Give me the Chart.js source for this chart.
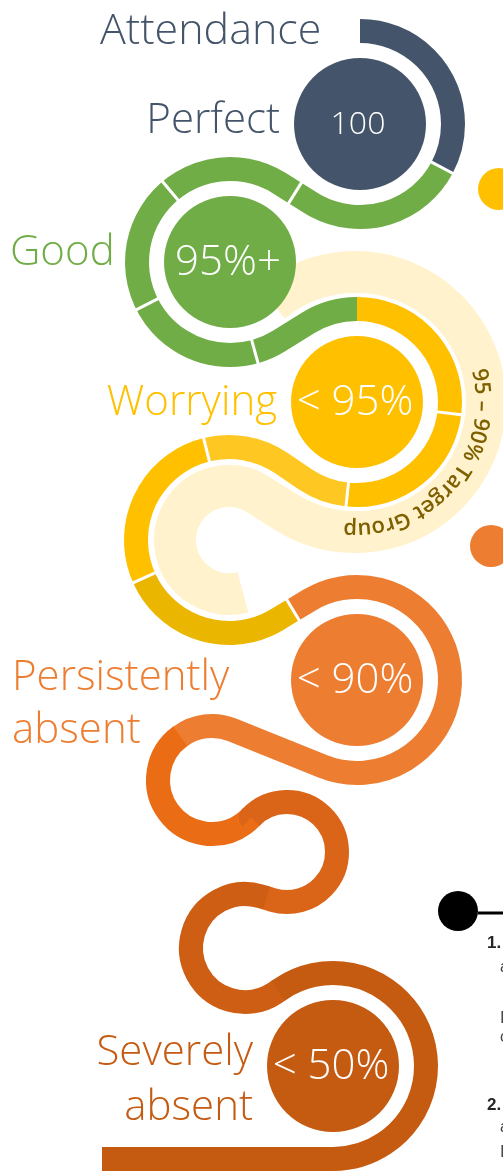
<!DOCTYPE html>
<html>
<head>
<meta charset="utf-8">
<script src="https://cdn.jsdelivr.net/npm/chart.js@4.4.1/dist/chart.umd.min.js"></script>
<style>
  html, body { margin: 0; padding: 0; background: #fff; }
  canvas { display: block; }
</style>
</head>
<body>
<canvas id="c" width="503" height="1171"></canvas>
<script>
/* ---- content ---- */
const title = "Attendance";
const bands = ["Perfect", "Good", "Worrying", "Persistently absent", "Severely absent"];
const thresholds = ["100", "95%+", "< 95%", "< 90%", "< 50%"];
const targetLabel = "95 – 90% Target Group";
const noteNumbers = ["1.", "2."];

/* ---- layout + style (pixels of the 503x1171 page) ---- */
const BAND_COL = ["#44546A", "#70AD47", "#FFC000", "#ED7D31", "#C55A11"];
const FONT = "'Open Sans', Lato, sans-serif";
const BADGE = [[360, 124], [230, 262], [357, 402], [357, 680], [333, 1066]];
const BADGE_R = 66;
const BADGE_FONT = [32, 42, 42, 42, 42];
const LABEL_FONT = 42;
const LABEL_POS = [
  { x: 280, y: [133], align: "right" },
  { x: 10, y: [265], align: "left" },
  { x: 277, y: [415], align: "right" },
  { x: 12, y: [690, 743], align: "left" },
  { x: 253, y: [1065, 1120], align: "right" },
];
const TRACK_W = 24;
// winding road: loop centres, mid radius, turning direction
const LOOPS = [
  { x: 360, y: 124, r: 93, cw: true },
  { x: 230, y: 262, r: 93, cw: false },
  { x: 357, y: 402, r: 93, cw: true },
  { x: 229, y: 540, r: 93, cw: false },
  { x: 357, y: 680, r: 93, cw: true },
  { x: 212, y: 780, r: 54, cw: false },
  { x: 287, y: 852, r: 50, cw: true },
  { x: 245, y: 948, r: 54, cw: false },
  { x: 333, y: 1066, r: 93, cw: true },
];
// colour changes along the road (sep = white cut line)
const BREAKS = [
  { loop: 0, deg: 28, color: "#70AD47", sep: true },
  { after: 0, sep: true },
  { loop: 1, deg: -130, sep: true },
  { loop: 1, deg: 153, sep: true },
  { loop: 1, deg: 74.5, sep: true },
  { loop: 2, deg: -90, color: "#FFC000" },
  { loop: 2, deg: 7, sep: true },
  { loop: 2, deg: 96, color: "#FFC722", sep: true },
  { loop: 3, deg: -104, color: "#FFC000", sep: true },
  { loop: 3, deg: 156, color: "#EBB600", sep: true },
  { after: 3, color: "#ED7D31", sep: true },
  { loop: 5, deg: -126, color: "#EA6C15" },
  { after: 5, color: "#DA6417" },
  { after: 6, color: "#CE5E14" },
  { after: 7, color: "#C55A11" },
];
const TARGET_LOOPS = [
  { x: 355, y: 402, r: 130, cw: true },
  { x: 229, y: 540, r: 54, cw: false },
];
const CREAM = "#FFF2CC";
const MARKERS = [
  { x: 499, y: 189, r: 21, c: "#FFC000" },
  { x: 491, y: 546, r: 21, c: "#ED7D31" },
  { x: 458, y: 911, r: 20, c: "#000000" },
];

/* ---- geometry helpers ---- */
const DEG = Math.PI / 180, TAU = Math.PI * 2;
const mod = (v) => ((v % TAU) + TAU) % TAU;

function buildTrack(loops, startDeg, endDeg, tail) {
  const n = loops.length, ent = [startDeg * DEG], ext = [];
  for (let i = 0; i < n - 1; i++) {
    const A = loops[i], B = loops[i + 1];
    const dx = B.x - A.x, dy = B.y - A.y;
    const phi = Math.atan2(dy, dx);
    const al = Math.acos(Math.min(1, (A.r + B.r) / Math.hypot(dx, dy)));
    ext[i] = A.cw ? phi - al : phi + al;
    ent[i + 1] = ext[i] + Math.PI;
  }
  ext[n - 1] = endDeg * DEG;
  const pieces = [];
  let len = 0;
  loops.forEach((L, i) => {
    const span = L.cw ? mod(ext[i] - ent[i]) : mod(ent[i] - ext[i]);
    const arc = { kind: "arc", loop: i, cx: L.x, cy: L.y, r: L.r, a0: ent[i], dir: L.cw ? 1 : -1, start: len, len: span * L.r };
    pieces.push(arc); len += arc.len;
    const ae = arc.a0 + arc.dir * span;
    const p = [L.x + L.r * Math.cos(ae), L.y + L.r * Math.sin(ae)];
    let q = null;
    if (i < n - 1) { const B = loops[i + 1]; q = [B.x + B.r * Math.cos(ent[i + 1]), B.y + B.r * Math.sin(ent[i + 1])]; }
    else if (tail) q = tail;
    if (!q) return;
    const ln = { kind: "line", after: i, x0: p[0], y0: p[1], x1: q[0], y1: q[1], start: len, len: Math.hypot(q[0] - p[0], q[1] - p[1]) };
    pieces.push(ln); len += ln.len;
  });
  return { pieces, len };
}

function locate(track, b) {
  if (b.loop !== undefined) {
    const a = track.pieces.find((p) => p.kind === "arc" && p.loop === b.loop);
    const s = a.dir > 0 ? mod(b.deg * DEG - a.a0) : mod(a.a0 - b.deg * DEG);
    return a.start + s * a.r;
  }
  const l = track.pieces.find((p) => p.kind === "line" && p.after === b.after);
  return l.start + l.len / 2;
}

function pointAt(track, L) {
  for (const p of track.pieces) {
    if (L < p.start - 1e-6 || L > p.start + p.len + 1e-6) continue;
    if (p.kind === "arc") {
      const a = p.a0 + p.dir * (L - p.start) / p.r;
      return { x: p.cx + p.r * Math.cos(a), y: p.cy + p.r * Math.sin(a), nx: Math.cos(a), ny: Math.sin(a) };
    }
    if (p.len < 1e-6) continue;
    const f = (L - p.start) / p.len, dx = p.x1 - p.x0, dy = p.y1 - p.y0;
    return { x: p.x0 + f * dx, y: p.y0 + f * dy, nx: -dy / p.len, ny: dx / p.len };
  }
  return null;
}

function strokeRange(ctx, track, L0, L1, X, Y, k) {
  ctx.beginPath();
  for (const p of track.pieces) {
    const a = Math.max(L0, p.start), b = Math.min(L1, p.start + p.len);
    if (b <= a) continue;
    if (p.kind === "arc") {
      ctx.arc(X(p.cx), Y(p.cy), p.r * k, p.a0 + p.dir * (a - p.start) / p.r, p.a0 + p.dir * (b - p.start) / p.r, p.dir < 0);
    } else {
      const f0 = (a - p.start) / p.len, f1 = (b - p.start) / p.len;
      const dx = p.x1 - p.x0, dy = p.y1 - p.y0;
      ctx.lineTo(X(p.x0 + f0 * dx), Y(p.y0 + f0 * dy));
      ctx.lineTo(X(p.x0 + f1 * dx), Y(p.y0 + f1 * dy));
    }
  }
  ctx.stroke();
}

const road = buildTrack(LOOPS, -90, 90, [102, 1066 + 93]);
const target = buildTrack(TARGET_LOOPS, -130, 75, null);

/* ---- drawing plugin ---- */
const infographic = {
  id: "infographic",
  beforeDatasetsDraw(chart) {
    const { ctx, scales: { x, y } } = chart;
    const X = (v) => x.getPixelForValue(v), Y = (v) => y.getPixelForValue(v);
    const k = X(1) - X(0);
    ctx.save();
    ctx.lineCap = "butt"; ctx.lineJoin = "round";

    // 95-90% target band
    ctx.strokeStyle = CREAM; ctx.lineWidth = 42 * k;
    strokeRange(ctx, target, 0, target.len, X, Y, k);

    // curved label on the band
    const T = TARGET_LOOPS[0], rb = 121 * k;
    ctx.font = "600 22px " + FONT;
    ctx.fillStyle = "#7F6000"; ctx.textAlign = "center"; ctx.textBaseline = "alphabetic";
    let ang = -15 * DEG;
    for (const ch of targetLabel) {
      const w = ctx.measureText(ch).width + 0.4, step = w / (rb + 7);
      const a = ang + step / 2;
      ctx.save();
      ctx.translate(X(T.x) + rb * Math.cos(a), Y(T.y) + rb * Math.sin(a));
      ctx.rotate(a + Math.PI / 2);
      ctx.fillText(ch, 0, 0);
      ctx.restore();
      ang += step;
    }

    // white halo, then coloured road
    ctx.strokeStyle = "#fff"; ctx.lineWidth = (TRACK_W + 8) * k;
    strokeRange(ctx, road, 0, road.len, X, Y, k);

    const stops = BREAKS.map((b) => ({ L: locate(road, b), color: b.color, sep: b.sep })).sort((a, b) => a.L - b.L);
    let col = BAND_COL[0], from = 0;
    ctx.lineWidth = TRACK_W * k;
    const runs = [];
    stops.forEach((s) => { if (s.color) { runs.push([from, s.L, col]); col = s.color; from = s.L; } });
    runs.push([from, road.len, col]);
    runs.forEach(([a, b, c], i) => {
      ctx.strokeStyle = c;
      strokeRange(ctx, road, a, i < runs.length - 1 ? b + 0.8 : b, X, Y, k);
    });

    ctx.strokeStyle = "#fff"; ctx.lineWidth = 3 * k;
    stops.filter((s) => s.sep).forEach((s) => {
      const p = pointAt(road, s.L), h = TRACK_W / 2 + 2;
      ctx.beginPath();
      ctx.moveTo(X(p.x - p.nx * h), Y(p.y - p.ny * h));
      ctx.lineTo(X(p.x + p.nx * h), Y(p.y + p.ny * h));
      ctx.stroke();
    });
    ctx.restore();
  },
  afterDatasetsDraw(chart) {
    const { ctx, scales: { x, y } } = chart;
    const X = (v) => x.getPixelForValue(v), Y = (v) => y.getPixelForValue(v);
    ctx.save();
    ctx.textBaseline = "alphabetic";

    ctx.font = "300 " + (LABEL_FONT + 1) + "px " + FONT;
    ctx.fillStyle = BAND_COL[0]; ctx.textAlign = "left";
    ctx.fillText(title, X(100), Y(44));

    ctx.font = "300 " + LABEL_FONT + "px " + FONT;
    bands.forEach((b, i) => {
      const pos = LABEL_POS[i];
      const lines = pos.y.length > 1 ? b.split(" ") : [b];
      ctx.fillStyle = BAND_COL[i]; ctx.textAlign = pos.align;
      lines.forEach((t, j) => ctx.fillText(t, X(pos.x), Y(pos.y[j])));
    });

    ctx.fillStyle = "#fff"; ctx.textAlign = "center"; ctx.textBaseline = "middle";
    thresholds.forEach((t, i) => {
      ctx.font = "300 " + BADGE_FONT[i] + "px " + FONT;
      ctx.fillText(t, X(BADGE[i][0] - 2), Y(BADGE[i][1] + 1));
    });

    // clipped notes column on the right edge
    ctx.strokeStyle = "#000"; ctx.lineWidth = 3;
    ctx.beginPath(); ctx.moveTo(X(478), Y(913)); ctx.lineTo(X(503), Y(913)); ctx.stroke();
    ctx.textBaseline = "alphabetic"; ctx.textAlign = "left";
    ctx.fillStyle = "#262626"; ctx.font = "bold 17px 'Liberation Sans', sans-serif";
    ctx.fillText(noteNumbers[0], X(487), Y(948));
    ctx.fillText(noteNumbers[1], X(487), Y(1110));
    ctx.fillStyle = "#444"; ctx.font = "16px 'Liberation Sans', sans-serif";
    [["at", 972], ["If", 1023], ["co", 1042], ["at", 1132], ["If", 1157]].forEach(([t, yy]) => ctx.fillText(t, X(500), Y(yy)));
    ctx.restore();
  },
};

new Chart(document.getElementById("c"), {
  type: "bubble",
  data: {
    datasets: [
      {
        label: "bands",
        data: BADGE.map((p) => ({ x: p[0], y: p[1], r: BADGE_R })),
        backgroundColor: BAND_COL, borderWidth: 0, hoverRadius: 0,
      },
      {
        label: "markers",
        data: MARKERS.map((m) => ({ x: m.x, y: m.y, r: m.r })),
        backgroundColor: MARKERS.map((m) => m.c), borderWidth: 0, hoverRadius: 0,
      },
    ],
  },
  options: {
    responsive: false,
    animation: false,
    events: [],
    layout: { padding: 0, autoPadding: false },
    scales: {
      x: { type: "linear", min: 0, max: 503, display: false },
      y: { type: "linear", min: 0, max: 1171, reverse: true, display: false },
    },
    plugins: { legend: { display: false }, tooltip: { enabled: false } },
  },
  plugins: [infographic],
});
</script>
</body>
</html>
